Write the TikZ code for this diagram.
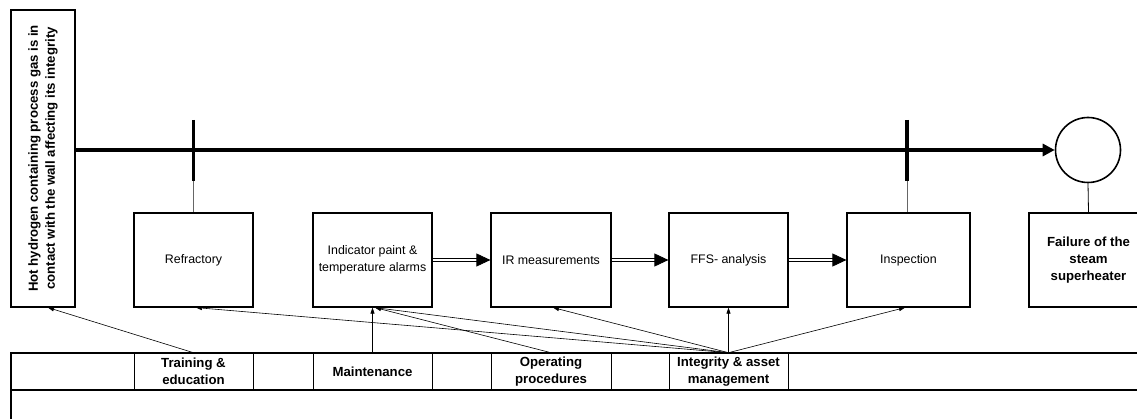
\documentclass[tikz,border=0pt]{standalone}
\usepackage{fontspec}
\setmainfont{Liberation Sans}
\usetikzlibrary{arrows.meta}
\begin{document}
\begin{tikzpicture}[x=1pt,y=-1pt,
  regfont/.style={font=\fontsize{12.4}{17}\selectfont},
  boldfont/.style={font=\fontsize{13.2}{17}\selectfont\bfseries},
  box/.style={draw,line width=1.2pt,minimum width=119pt,minimum height=94pt,inner sep=2pt,align=center,regfont},
  hotbox/.style={draw,line width=1.2pt,minimum width=64pt,minimum height=297pt,inner sep=0pt},
  cell/.style={draw,line width=0.6pt,minimum width=119pt,minimum height=37pt,inner sep=1pt,align=center,boldfont},
  mainline/.style={line width=3.6pt,-{Triangle[length=12pt,width=12pt]}},
  barline/.style={line width=3.6pt},
  tieline/.style={line width=0.6pt,gray!80!black},
  dblarrow/.style={double,double distance=1.8pt,line width=0.7pt,-{Triangle[length=14pt,width=13pt]}},
  barrier/.style={line width=0.6pt,-{Triangle[length=6pt,width=4pt]}},
  tableline/.style={line width=1.5pt}
]
\clip (0,0) rectangle (1137,419);

% left box
\node[hotbox] (hot) at (43,158.5) {};
\node[rotate=90,align=center,boldfont,inner sep=0pt] (hottext) at (hot.center)
  {Hot hydrogen containing process gas is in\\contact with the wall affecting its integrity};

% event circle and consequence
\node[draw,circle,line width=1.6pt,minimum size=65pt,inner sep=0pt] (failc) at (1088,150) {};
\node[box,boldfont] (fail) at (1088.5,260) {Failure of the\\steam\\superheater};

% barriers
\node[box] (refr) at (193.5,260) {Refractory};
\node[box] (ind) at (372.5,260) {Indicator paint \&\\temperature alarms};
\node[box,minimum width=120pt] (ir) at (551,260) {IR measurements};
\node[box] (ffs) at (728.5,260) {FFS- analysis};
\node[box,minimum width=123pt] (insp) at (908.5,260) {Inspection};

% main line
\draw[mainline] (hot.east |- failc.west) -- (failc.west);

% bars
\coordinate (b1top) at (193.5,120);
\coordinate (b1bot) at (193.5,181);
\coordinate (b2top) at (907,120);
\coordinate (b2bot) at (907,181);
\draw[barline] (b1top) -- (b1bot);
\draw[barline] (b2top) -- (b2bot);
\draw[tieline] (b1bot) -- (b1bot |- refr.north);
\draw[tieline] (b2bot) -- (b2bot |- insp.north);
\draw[line width=0.8pt] (failc.south) -- (fail.north);

% double arrows
\draw[dblarrow] (ind.east) -- (ir.west);
\draw[dblarrow] (ir.east) -- (ffs.west);
\draw[dblarrow] (ffs.east) -- (insp.west);

% table cells
\node[cell] (train) at (193.5,371.5) {Training \&\\education};
\node[cell] (maint) at (372.5,371.5) {Maintenance};
\node[cell,minimum width=120pt] (oper) at (551,371.5) {Operating\\procedures};
\node[cell] (integ) at (728.5,371.5) {Integrity \& asset\\management};
\draw[tableline] (11,440) -- (11,353) -- (1150,353);
\draw[tableline] (11,390) -- (1150,390);

% management arrows
\draw[barrier] (train.north) -- ([xshift=5pt]hot.south);
\draw[barrier] (maint.north) -- (maint.north |- ind.south);
\draw[barrier] (oper.north) -- ([xshift=2.5pt]ind.south);
\draw[barrier] (integ.north) -- ([xshift=2.5pt]refr.south);
\draw[barrier] (integ.north) -- ([xshift=2.5pt]ind.south);
\draw[barrier] (integ.north) -- ([xshift=2pt]ir.south);
\draw[barrier] (integ.north) -- (ffs.south);
\draw[barrier] (integ.north) -- ([xshift=-3.5pt]insp.south);
\end{tikzpicture}
\end{document}
